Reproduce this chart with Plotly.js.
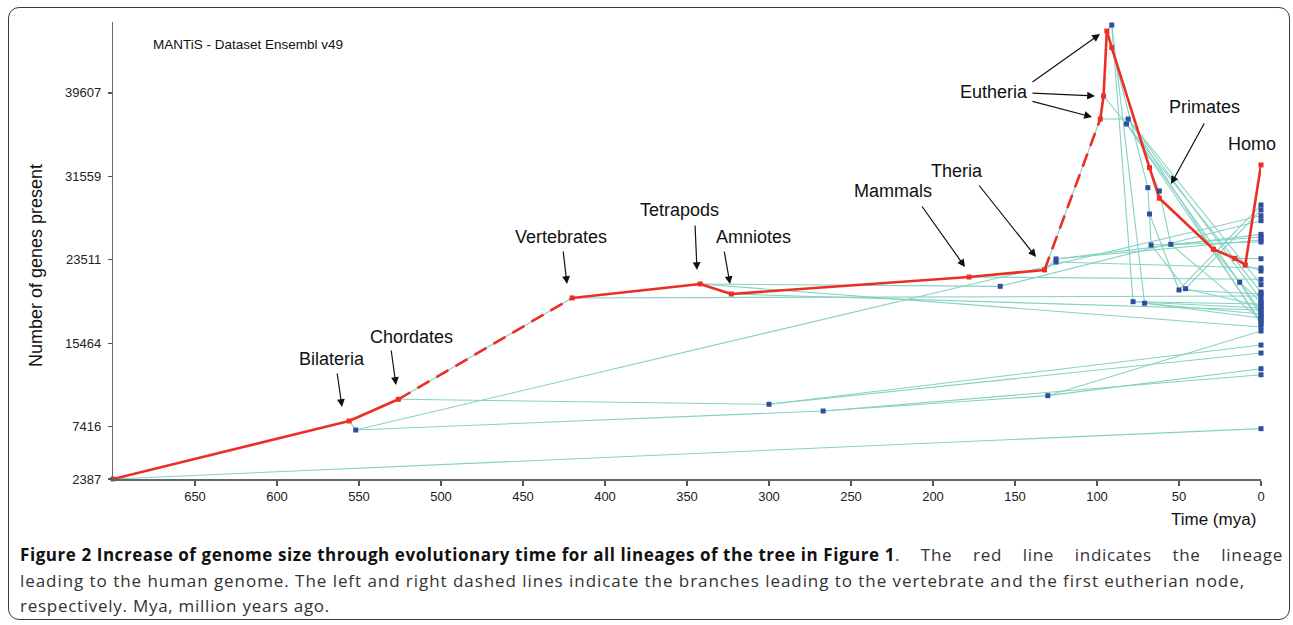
<!DOCTYPE html>
<html><head><meta charset="utf-8">
<script src="https://cdn.plot.ly/plotly-3.0.1.min.js"></script>
<style>
body{margin:0;background:#fff;}
#wrap{position:relative;width:1293px;height:625px;overflow:hidden;background:#fff;}
#chart{position:absolute;left:0;top:0;width:1293px;height:625px;}
#frame{position:absolute;left:8px;top:7px;width:1280px;height:611px;border:1.5px solid #3a3a3a;border-radius:11px;pointer-events:none;}
.cap{position:absolute;left:20px;font-family:'Open Sans',sans-serif;font-size:17px;color:#333;white-space:nowrap;line-height:26px;}
.cap b{color:#111;font-weight:700;}
</style></head>
<body><div id="wrap"><div id="chart"></div><div id="frame"></div>
<div class="cap" style="top:542px"><b id="c1b">Figure 2 Increase of genome size through evolutionary time for all lineages of the tree in Figure 1</b><span id="c1r">. The red line indicates the lineage</span></div>
<div class="cap" style="top:568px"><span id="c2">leading to the human genome. The left and right dashed lines indicate the branches leading to the vertebrate and the first eutherian node,</span></div>
<div class="cap" style="top:593px"><span id="c3">respectively. Mya, million years ago.</span></div>
</div>
<script>
// ---------------- data ----------------
const xTicks = [650,600,550,500,450,400,350,300,250,200,150,100,50,0];
const yTicks = [2387,7416,15464,23511,31559,39607];
const yTickText = ['2387','7416','15464','23511','31559','39607'];

// internal nodes of the tree (time in mya, number of genes, parent)
const nodeId = ['root','Bilateria','Chordates','Vertebrates','Tetrapods','Amniotes','Mammals','Theria','Eutheria','r9','r10','r11','r12','Primates','r14','r15','r16','Homo',
  'b1','b2','b3','b4','b5','b6a','b6b','b7','b8a','b8b','b9','b10','b11','b12','b13','b14','b15','b16','b17','b18'];
const nodeMya = [700,556,526,420,342,323,178,132,98,96,94,91,68,62,29,16,9.6,0,
  552,300,267,130,159,125,125,91,81,82,78,71,69,62,68,67,55,50,46,13];
const nodeGenes = [2387,7980,10070,19840,21190,20220,21860,22540,37090,39310,45570,43970,32400,29450,24530,23660,23020,32660,
  7110,9590,8940,10420,20960,23600,23310,46150,37090,36610,19480,19330,30470,30150,27930,24940,25010,20610,20730,21350];
const nodeParent = [null,'root','Bilateria','Chordates','Vertebrates','Tetrapods','Amniotes','Mammals','Theria','Eutheria','r9','r10','r11','r12','Primates','r14','r15','r16',
  'Bilateria','Chordates','b1','b3','Tetrapods','Theria','Theria','r10','Eutheria','r9','b7','b7','r11','r12','b11','b13','b12','b13','b14','r14'];

// present-day genomes (leaves)
const leafMya = [0,0,0,0,0,0,0,0,0,0,0,0,0,0,0,0,0,0,0,0,0,0,0,0,0,0,0,0,0,0,0,0,0,0,0,0];
const leafGenes = [28800,28320,27770,27290,25720,25430,25230,23620,22730,22440,21640,21120,20410,20220,20030,19640,19450,19260,19060,18870,18680,18480,18290,18100,17910,17720,17520,17330,17040,16650,15300,14530,13020,12440,7240,25970];
const leafParent = ['b16','b17','b1','b5','b15','b6a','b14','r15','b6b','r16','Mammals','b8a','b8b','b16','Vertebrates','b8a','b18','b9','b17','b9','Amniotes','b8b','b10','b18','b10','b15','b8b','b8a','Tetrapods','b4','b2','b2','b4','b3','root','b6a'];

const humanLineage = ['root','Bilateria','Chordates','Vertebrates','Tetrapods','Amniotes','Mammals','Theria','Eutheria','r9','r10','r11','r12','Primates','r14','r15','r16','Homo'];
const dashedBranches = [['Chordates','Vertebrates'],['Theria','Eutheria']];

// ---------------- build traces ----------------
const idx = {}; nodeId.forEach((n,i)=>idx[n]=i);
const ex=[], ey=[];
nodeId.forEach((n,i)=>{ const p=nodeParent[i]; if(p!==null){ ex.push(nodeMya[idx[p]],nodeMya[i],null); ey.push(nodeGenes[idx[p]],nodeGenes[i],null);} });
leafParent.forEach((p,i)=>{ ex.push(nodeMya[idx[p]],leafMya[i],null); ey.push(nodeGenes[idx[p]],leafGenes[i],null); });

const isDashed=(a,b)=>dashedBranches.some(d=>d[0]===a&&d[1]===b);
const sx=[], sy=[], dx=[], dy=[];
for(let k=1;k<humanLineage.length;k++){
  const a=humanLineage[k-1], b=humanLineage[k];
  const tx = isDashed(a,b)?dx:sx, ty = isDashed(a,b)?dy:sy;
  tx.push(nodeMya[idx[a]],nodeMya[idx[b]],null); ty.push(nodeGenes[idx[a]],nodeGenes[idx[b]],null);
}
const redSet=new Set(humanLineage);
const bx=[],by=[];
nodeId.forEach((n,i)=>{ if(!redSet.has(n)){bx.push(nodeMya[i]);by.push(nodeGenes[i]);} });
leafMya.forEach((m,i)=>{bx.push(m);by.push(leafGenes[i]);});
const rx=humanLineage.map(n=>nodeMya[idx[n]]), ry=humanLineage.map(n=>nodeGenes[idx[n]]);

const TEAL='#84d2c2', RED='#ec2f26', BLUE='#2f4e9e';
const traces=[
  {x:ex,y:ey,mode:'lines',line:{color:TEAL,width:1.1},cliponaxis:false,hoverinfo:'skip'},
  {x:sx,y:sy,mode:'lines',line:{color:RED,width:2.6},cliponaxis:false,hoverinfo:'skip'},
  {x:dx,y:dy,mode:'lines',line:{color:RED,width:2.6,dash:'14px,8px'},cliponaxis:false,hoverinfo:'skip'},
  {x:bx,y:by,mode:'markers',marker:{symbol:'square',size:5,color:BLUE},cliponaxis:false,hoverinfo:'skip'},
  {x:rx,y:ry,mode:'markers',marker:{symbol:'square',size:5,color:RED},cliponaxis:false,hoverinfo:'skip'}
];

// ---------------- layout ----------------
const L=113, R=1261, T=22, B=479;
const P=px=>(px-L)/(R-L), Q=py=>(B-py)/(B-T);
const FONT='Liberation Sans, Arial, Helvetica, sans-serif';
const ann=[];
function lab(t,x,y,size){ann.push({xref:'paper',yref:'paper',x:P(x),y:Q(y),text:t,showarrow:false,xanchor:'center',yanchor:'middle',font:{family:FONT,size:size||18,color:'#111'}});}
function arr(x1,y1,x2,y2){ann.push({xref:'paper',yref:'paper',x:P(x2),y:Q(y2),ax:x1-x2,ay:y1-y2,axref:'pixel',ayref:'pixel',text:'',showarrow:true,arrowhead:2,arrowsize:1.3,arrowwidth:1.2,arrowcolor:'#111',standoff:0,startstandoff:0});}
lab('Bilateria',332,359); arr(337,372,342,407);
lab('Chordates',411,337); arr(391,349,396,385);
lab('Vertebrates',561,237); arr(563,250,567,284);
lab('Tetrapods',679,210); arr(695,224,697,270);
lab('Amniotes',753,237); arr(724,250,730,284);
lab('Mammals',893,191); arr(921,205,965,267);
lab('Theria',957,171); arr(978,184,1036,257);
lab('Eutheria',994,92); arr(1031,83,1100,34); arr(1031,93,1095,96); arr(1031,101,1092,117);
lab('Primates',1204,107); arr(1205,122,1171,184);
lab('Homo',1252,144);
ann.push({xref:'paper',yref:'paper',x:P(151),y:Q(44),text:'MANTiS - Dataset Ensembl v49',showarrow:false,xanchor:'left',yanchor:'middle',font:{family:FONT,size:13.5,color:'#111'}});
ann.push({xref:'paper',yref:'paper',x:P(36),y:Q(266),text:'Number of genes present',textangle:-90,showarrow:false,xanchor:'center',yanchor:'middle',font:{family:FONT,size:18,color:'#111'}});
ann.push({xref:'paper',yref:'paper',x:P(1213),y:Q(519),text:'Time (mya)',showarrow:false,xanchor:'center',yanchor:'middle',font:{family:FONT,size:17,color:'#111'}});

const layout={
  width:1293,height:625,margin:{l:L,r:1293-R,t:T,b:625-B},
  paper_bgcolor:'rgba(0,0,0,0)',plot_bgcolor:'rgba(0,0,0,0)',showlegend:false,
  font:{family:FONT,color:'#222'},
  xaxis:{range:[700,0],tickmode:'array',tickvals:xTicks,ticktext:xTicks.map(String),ticks:'outside',ticklen:5,tickwidth:1.2,tickcolor:'#555',
    showline:true,linecolor:'#666',linewidth:1.5,showgrid:false,zeroline:false,tickfont:{size:13,color:'#222'}},
  yaxis:{range:[2387,46442],tickmode:'array',tickvals:yTicks,ticktext:yTickText,ticks:'outside',ticklen:4,tickwidth:1.2,tickcolor:'#555',
    showline:true,linecolor:'#666',linewidth:1.2,showgrid:false,zeroline:false,tickfont:{size:13,color:'#222'},ticklabelstandoff:4},
  annotations:ann
};
Plotly.newPlot('chart',traces,layout,{staticPlot:true,displayModeBar:false});

// fit caption widths to the reference: bold part by letter spacing, the rest justified
function width(el){return el.getBoundingClientRect().width;}
function fitLetters(id,target){const el=document.getElementById(id);el.style.letterSpacing='0px';const w=width(el);el.style.letterSpacing=((target-w)/el.textContent.length)+'px';}
function fitWords(id,target,ls){const el=document.getElementById(id);el.style.letterSpacing=ls+'px';el.style.wordSpacing='0px';const w=width(el);const n=(el.textContent.match(/ /g)||[]).length;el.style.wordSpacing=((target-w)/n)+'px';}
function fitAll(){fitLetters('c1b',875);fitWords('c1r',388,0.7);fitLetters('c2',1225);fitLetters('c3',310);}
fitAll(); if(document.fonts&&document.fonts.ready){document.fonts.ready.then(fitAll);}
</script></body></html>
